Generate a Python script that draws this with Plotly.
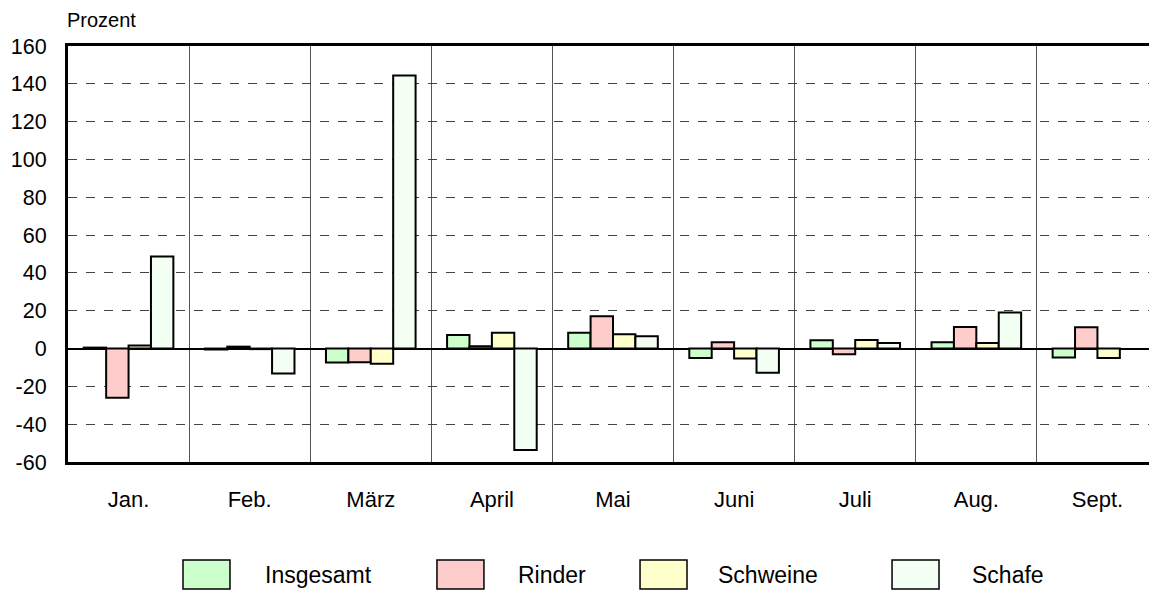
import plotly.graph_objects as go

months = ["Jan.", "Feb.", "März", "April", "Mai", "Juni", "Juli", "Aug.", "Sept."]
insgesamt = [0.5, -0.5, -7.4, 7.2, 8.3, -5.0, 4.4, 3.3, -4.7]
rinder = [-26.0, 1.0, -7.3, 1.2, 17.1, 3.3, -3.0, 11.4, 11.2]
schweine = [1.6, -0.3, -8.0, 8.3, 7.6, -5.3, 4.5, 2.9, -5.0]
schafe = [48.7, -13.2, 144.4, -53.6, 6.5, -12.8, 2.9, 19.0, None]

series_names = ["Insgesamt", "Rinder", "Schweine", "Schafe"]
series_values = [insgesamt, rinder, schweine, schafe]
series_colors = ["#CCFFCC", "#FFCCCC", "#FFFFCC", "#F4FFF4"]
y_tick_vals = [-60, -40, -20, 0, 20, 40, 60, 80, 100, 120, 140, 160]
y_tick_text = ["-60", "-40", "-20", "0", "20", "40", "60", "80", "100", "120", "140", "160"]

# legend layout (paper coordinates)
legend_box_x = [0.1055, 0.3385, 0.5248, 0.7560]
legend_text_x = [0.1807, 0.4128, 0.5963, 0.8294]

font = "Liberation Sans, Arial, sans-serif"

fig = go.Figure()
for name, vals, col in zip(series_names, series_values, series_colors):
    fig.add_trace(go.Bar(
        x=months, y=vals, name=name,
        marker=dict(color=col, line=dict(color="black", width=2)),
        showlegend=False,
    ))

for name, col, bx, tx in zip(series_names, series_colors, legend_box_x, legend_text_x):
    fig.add_shape(type="rect", xref="paper", yref="paper",
                  x0=bx, x1=bx + 0.0431, y0=-0.2356, y1=-0.3053,
                  fillcolor=col, line=dict(color="black", width=1.5))
    fig.add_annotation(xref="paper", yref="paper", x=tx, y=-0.2716,
                       text=name, showarrow=False, xanchor="left", yanchor="middle",
                       xshift=-2, font=dict(family=font, size=23, color="black"))

fig.add_annotation(xref="paper", yref="paper", x=0.0, y=1.0905,
                   text="Prozent", showarrow=False, xanchor="left", yanchor="top",
                   xshift=-2, borderpad=0,
                   font=dict(family=font, size=20, color="black"))

fig.update_layout(
    template="none",
    width=1157, height=594,
    margin=dict(l=60, r=7, t=38, b=140, autoexpand=False),
    plot_bgcolor="white", paper_bgcolor="white",
    barmode="group", bargap=0.26, bargroupgap=0,
    font=dict(family=font, size=22, color="black"),
    showlegend=False,
)
fig.update_xaxes(
    type="category", tickson="boundaries", showgrid=True, automargin=False,
    gridcolor="#555555", gridwidth=1, ticks="", ticklabelstandoff=16,
    showline=True, linecolor="black", linewidth=3, mirror=True,
    zeroline=False,
)
fig.update_yaxes(
    range=[-60, 160], tickvals=y_tick_vals, ticktext=y_tick_text, showgrid=True,
    automargin=False,
    gridcolor="#444444", gridwidth=1, griddash="dash",
    zeroline=True, zerolinecolor="black", zerolinewidth=2,
    showline=True, linecolor="black", linewidth=3, mirror=False,
    ticks="", ticklabelstandoff=14,
    tickfont=dict(family=font, size=21.5, color="black"),
)

fig.write_html("out.html")
